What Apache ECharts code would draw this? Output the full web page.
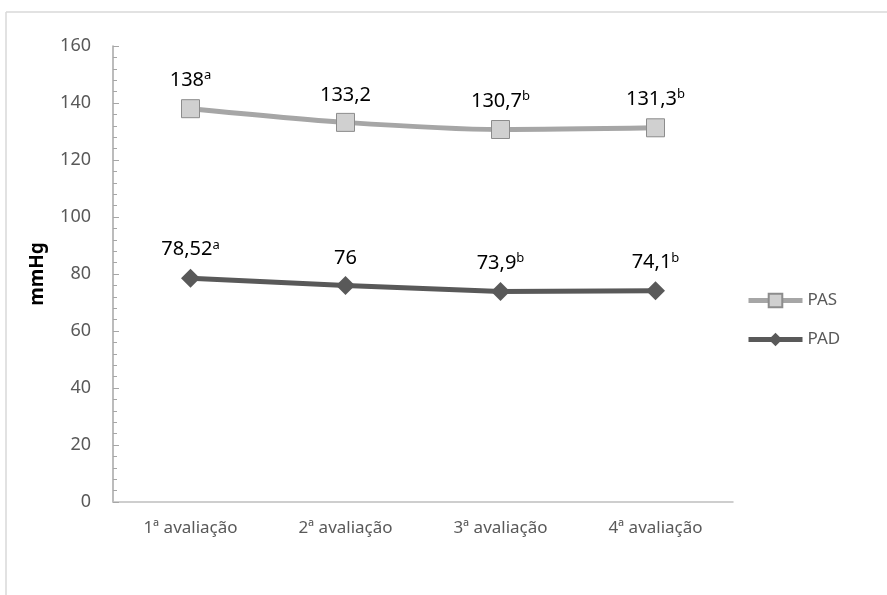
<!DOCTYPE html>
<html>
<head>
<meta charset="utf-8">
<script src="https://cdn.jsdelivr.net/npm/echarts@6/dist/echarts.min.js"></script>
<style>
    html, body { margin: 0; padding: 0; background: #fff; }
    #chart { width: 887px; height: 595px; }
</style>
</head>
<body>
<div id="chart"></div>
<script>
    // categorias e valores
    var categorias = ['1ª avaliação', '2ª avaliação', '3ª avaliação', '4ª avaliação'];
    var pas = [138, 133.2, 130.7, 131.3];
    var pad = [78.52, 76, 73.9, 74.1];
    // rótulos e sobrescritos
    var pasRotulos = ['138', '133,2', '130,7', '131,3'];
    var pasSup = ['a', '', 'b', 'b'];
    var padRotulos = ['78,52', '76', '73,9', '74,1'];
    var padSup = ['a', '', 'b', 'b'];
    var yTicks = [0, 20, 40, 60, 80, 100, 120, 140, 160];

    var fonte = 'Noto Sans';

    function rotulo(textos, sups) {
        return function (p) {
            var s = textos[p.dataIndex];
            if (sups[p.dataIndex]) s += '{sup|' + sups[p.dataIndex] + '}';
            return s;
        };
    }

    var richSup = {
        sup: { fontSize: 13, verticalAlign: 'top', padding: [0, 0, 9, 0], color: '#000', fontFamily: fonte }
    };

    var myChart = echarts.init(document.getElementById('chart'));
    var option = {
        animation: false,
        textStyle: { fontFamily: fonte },
        graphic: [
            { type: 'line', shape: { x1: 6, y1: 12, x2: 887, y2: 12 }, style: { stroke: '#d9d9d9', lineWidth: 1.5 } },
            { type: 'line', shape: { x1: 6, y1: 12, x2: 6, y2: 595 }, style: { stroke: '#d9d9d9', lineWidth: 1.5 } }
        ],
        grid: { left: 113, right: 154, top: 46, bottom: 93 },
        legend: {
            orient: 'vertical',
            left: 741,
            top: 287,
            itemGap: 22,
            itemWidth: 54,
            itemHeight: 17,
            lineStyle: { width: 5 },
            textStyle: { fontSize: 17, color: '#595959', fontFamily: fonte },
            data: ['PAS', 'PAD']
        },
        xAxis: {
            type: 'category',
            data: categorias,
            axisLine: { lineStyle: { color: '#bfbfbf', width: 1.5 } },
            axisTick: { show: false },
            axisLabel: { fontSize: 17, color: '#595959', margin: 18 }
        },
        yAxis: {
            type: 'value',
            min: yTicks[0],
            max: yTicks[yTicks.length - 1],
            interval: 20,
            name: 'mmHg',
            nameLocation: 'middle',
            nameGap: 66,
            nameTextStyle: { fontSize: 19, color: '#000', fontWeight: 'bold' },
            axisLine: { show: true, lineStyle: { color: '#a6a6a6', width: 1.5 } },
            axisTick: { show: true, inside: true, length: 6, lineStyle: { color: '#a6a6a6' } },
            minorTick: { show: true, splitNumber: 5, length: 4, lineStyle: { color: '#a6a6a6' } },
            splitLine: { show: false },
            axisLabel: { fontSize: 18, color: '#595959', margin: 22 }
        },
        series: [
            {
                name: 'PAS',
                type: 'line',
                data: pas,
                smooth: 0.3,
                symbol: 'rect',
                symbolSize: 18,
                itemStyle: { color: '#d0d0d0', borderColor: '#8c8c8c', borderWidth: 1 },
                lineStyle: { color: '#a6a6a6', width: 5 },
                label: {
                    show: true,
                    position: 'top',
                    distance: 8,
                    fontSize: 20,
                    color: '#000',
                    formatter: rotulo(pasRotulos, pasSup),
                    rich: richSup
                }
            },
            {
                name: 'PAD',
                type: 'line',
                data: pad,
                symbol: 'diamond',
                symbolSize: 19,
                itemStyle: { color: '#595959' },
                lineStyle: { color: '#595959', width: 5 },
                label: {
                    show: true,
                    position: 'top',
                    distance: 8,
                    fontSize: 20,
                    color: '#000',
                    formatter: rotulo(padRotulos, padSup),
                    rich: richSup
                }
            }
        ]
    };
    myChart.setOption(option);
</script>
</body>
</html>
